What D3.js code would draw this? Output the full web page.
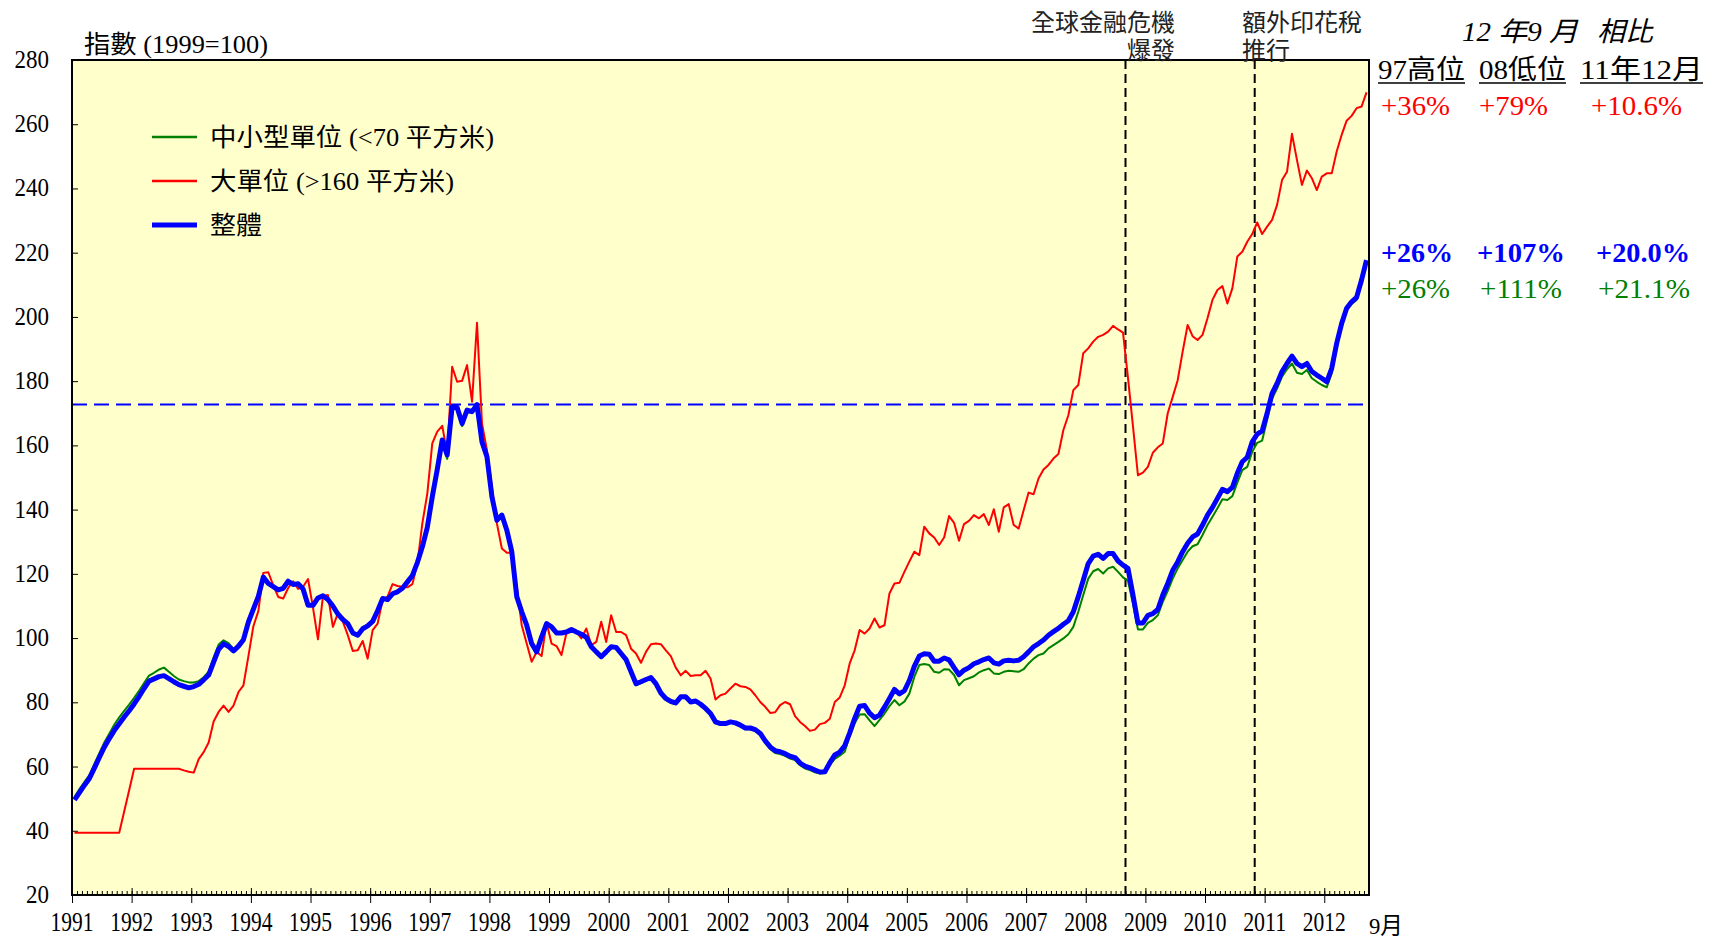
<!DOCTYPE html>
<html>
<head>
<meta charset="utf-8">
<script src="https://cdnjs.cloudflare.com/ajax/libs/d3/7.8.5/d3.min.js"></script>
<style>
body { margin: 0; background: #fff; }
svg text { font-family: "Liberation Serif", "Noto Sans CJK TC", serif; }
</style>
</head>
<body>
<main></main>
<script>
// monthly index, Jan 1991 .. Sep 2012 (1999 = 100)
var years = ['1991','1992','1993','1994','1995','1996','1997','1998','1999','2000','2001',
             '2002','2003','2004','2005','2006','2007','2008','2009','2010','2011','2012'];
var yTicks = [20, 40, 60, 80, 100, 120, 140, 160, 180, 200, 220, 240, 260, 280];

var overall = [
  49.6, 51.9, 54.2, 56.3, 59.5, 62.8, 66.0, 68.7, 71.2, 73.3, 75.4, 77.4,
  79.5, 81.8, 84.3, 86.6, 87.3, 88.0, 88.3, 87.4, 86.4, 85.5, 85.0, 84.5,
  84.9, 85.6, 87.0, 88.5, 92.5, 96.5, 98.2, 97.4, 96.0, 97.5, 99.5, 105.0,
  109.0, 113.0, 119.0, 117.0, 116.0, 115.0, 115.5, 117.7, 116.7, 116.9, 115.3, 110.2,
  110.2, 112.5, 113.2, 112.0, 110.0, 107.5, 105.8, 104.5, 101.6, 100.9, 102.9, 103.8,
  105.2, 108.5, 112.3, 112.0, 113.8, 114.4, 115.5, 117.5, 119.5, 123.5, 128.4, 134.5,
  144.0, 152.5, 161.7, 157.0, 172.0, 171.8, 166.8, 171.0, 170.5, 172.7, 161.1, 156.5,
  144.0, 136.7, 138.3, 133.6, 126.9, 112.9, 108.2, 104.0, 98.3, 95.7, 100.4, 104.5,
  103.5, 101.6, 101.6, 101.9, 102.7, 101.9, 101.2, 100.2, 97.3, 95.7, 94.2, 95.7,
  97.3, 97.1, 95.2, 93.3, 89.5, 85.8, 86.4, 87.1, 87.7, 85.8, 82.9, 81.2,
  80.3, 79.8, 81.7, 81.7, 80.1, 80.4, 79.4, 78.1, 76.5, 73.9, 73.4, 73.4,
  73.9, 73.6, 72.9, 72.0, 72.0, 71.5, 70.3, 68.0, 66.1, 64.9, 64.6, 64.0,
  63.2, 62.8, 61.1, 60.1, 59.6, 58.9, 58.3, 58.4, 61.2, 63.6, 64.5, 66.5,
  70.5, 75.0, 78.8, 79.0, 76.6, 75.2, 76.0, 78.5, 81.2, 84.0, 82.6, 83.6,
  86.8, 91.2, 94.4, 95.1, 95.0, 92.8, 92.8, 93.8, 93.2, 90.8, 88.6, 90.0,
  90.8, 92.0, 92.6, 93.3, 93.8, 92.3, 91.9, 92.9, 93.1, 92.9, 93.1, 94.2,
  95.7, 97.3, 98.3, 99.4, 100.9, 102.0, 103.0, 104.3, 105.4, 108.2, 112.9, 118.0,
  123.2, 125.5, 126.1, 124.8, 126.3, 126.3, 124.0, 122.7, 121.7, 113.4, 104.7, 104.7,
  107.1, 107.6, 108.9, 113.4, 117.0, 121.1, 123.7, 126.9, 129.5, 131.5, 132.4, 135.2,
  138.3, 140.7, 143.5, 146.3, 145.6, 146.9, 151.3, 154.9, 156.3, 161.1, 163.5, 164.5,
  170.0, 176.2, 179.3, 183.0, 185.5, 187.8, 185.5, 184.5, 185.5, 183.0, 181.9, 180.9,
  179.8, 184.0, 191.8, 198.0, 202.7, 204.7, 206.1, 211.5, 217.7
];

var smallUnits = [
  50.5, 53.0, 55.2, 57.3, 60.8, 64.2, 67.5, 70.2, 73.0, 75.3, 77.3, 79.3,
  81.4, 83.6, 86.0, 88.3, 89.2, 90.2, 90.8, 89.5, 88.2, 87.1, 86.6, 86.2,
  86.2, 86.6, 87.8, 89.5, 94.0, 98.0, 99.3, 98.4, 96.6, 97.8, 99.8, 105.0,
  109.0, 113.0, 119.0, 117.2, 116.0, 114.8, 115.5, 117.5, 116.5, 116.7, 115.0, 110.0,
  110.0, 112.3, 113.0, 111.8, 109.8, 107.4, 105.6, 104.3, 101.5, 100.8, 102.8, 103.7,
  105.3, 108.8, 112.6, 112.0, 113.7, 114.3, 115.4, 117.4, 119.4, 123.2, 128.0, 134.0,
  143.5, 152.0, 161.0, 155.8, 171.5, 171.2, 166.0, 170.3, 170.2, 172.2, 160.8, 156.2,
  143.8, 136.5, 138.0, 133.4, 126.7, 112.7, 108.0, 103.8, 98.1, 95.5, 100.2, 104.2,
  103.2, 101.4, 101.4, 101.7, 102.5, 101.7, 101.0, 100.0, 97.0, 95.4, 93.9, 95.4,
  97.0, 96.8, 94.9, 93.0, 89.1, 85.3, 86.0, 86.8, 87.3, 85.4, 82.5, 80.7,
  79.8, 79.4, 81.4, 81.3, 79.8, 80.1, 79.1, 77.8, 76.1, 73.5, 73.0, 73.1,
  73.6, 73.3, 72.5, 71.6, 71.6, 71.1, 69.8, 67.4, 65.5, 64.2, 63.9, 63.3,
  62.5, 62.0, 60.4, 59.4, 58.9, 58.2, 57.8, 58.0, 60.5, 62.4, 63.4, 64.6,
  69.5, 73.5, 76.2, 76.3, 74.4, 72.6, 74.5, 76.5, 78.8, 80.7, 79.1, 80.2,
  82.7, 87.9, 91.6, 91.9, 91.6, 89.5, 89.2, 90.3, 90.2, 88.5, 85.3, 86.9,
  87.5, 88.1, 89.3, 90.0, 90.5, 89.0, 88.8, 89.5, 89.8, 89.7, 89.5, 90.3,
  92.1, 93.6, 94.7, 95.2, 96.8, 97.8, 98.8, 99.9, 101.2, 103.5, 108.2, 113.4,
  118.5, 120.8, 121.5, 120.1, 121.7, 122.2, 120.6, 118.9, 117.8, 110.8, 102.7, 102.7,
  104.7, 105.6, 107.1, 111.3, 114.7, 118.5, 121.7, 124.3, 126.9, 128.6, 129.2, 132.1,
  135.2, 137.8, 140.4, 143.2, 143.0, 144.2, 148.4, 152.3, 153.3, 158.0, 160.8, 161.5,
  168.0, 174.6, 177.7, 181.4, 183.7, 185.5, 182.6, 182.2, 183.5, 180.9, 179.8, 178.8,
  178.1, 182.4, 190.7, 197.0, 202.1, 204.0, 205.3, 210.5, 216.5
];

var largeUnits = [
  39.4, 39.4, 39.4, 39.4, 39.4, 39.4, 39.4, 39.4, 39.4, 39.4, 46.0, 52.6,
  59.3, 59.3, 59.3, 59.3, 59.3, 59.3, 59.3, 59.3, 59.3, 59.3, 58.8, 58.4,
  58.1, 62.3, 64.5, 67.5, 74.0, 77.0, 79.0, 77.0, 79.0, 83.2, 85.3, 94.4,
  103.7, 108.4, 120.3, 120.5, 116.4, 112.8, 112.3, 115.6, 117.7, 115.3, 116.0, 118.4,
  109.4, 99.6, 113.0, 113.4, 103.5, 107.7, 105.1, 100.9, 96.0, 96.2, 99.1, 93.6,
  102.5, 104.5, 111.8, 112.9, 116.8, 116.2, 116.0, 115.8, 116.8, 123.2, 135.7, 145.0,
  160.6, 164.3, 166.1, 157.5, 184.5, 179.8, 180.1, 185.0, 173.6, 198.2, 166.8, 158.5,
  147.1, 135.7, 127.9, 126.6, 126.6, 116.0, 104.0, 98.3, 92.6, 95.7, 94.4, 104.8,
  98.3, 97.5, 94.7, 101.6, 101.9, 101.9, 99.9, 103.0, 97.8, 98.8, 105.1, 98.8,
  107.1, 101.9, 101.9, 100.9, 96.7, 95.2, 92.3, 95.7, 98.1, 98.3, 98.1, 96.2,
  94.4, 90.8, 88.4, 89.8, 88.2, 88.4, 88.4, 89.8, 87.4, 80.9, 82.2, 82.7,
  84.3, 85.8, 85.0, 84.8, 84.0, 82.2, 80.1, 78.6, 76.7, 76.9, 79.1, 80.1,
  79.4, 75.7, 73.9, 72.6, 71.1, 71.5, 73.2, 73.6, 74.9, 80.1, 81.5, 85.3,
  92.1, 96.2, 102.5, 101.4, 103.0, 106.1, 103.3, 104.0, 113.9, 117.0, 117.2, 120.6,
  123.8, 126.9, 125.8, 134.7, 132.6, 131.3, 129.0, 131.3, 138.0, 135.9, 130.3, 135.5,
  136.5, 138.3, 137.3, 138.6, 135.2, 140.1, 133.1, 140.7, 141.7, 135.2, 134.1, 139.8,
  145.3, 144.8, 149.7, 152.5, 153.9, 155.9, 157.3, 164.8, 169.4, 177.2, 178.8, 188.7,
  190.2, 192.3, 193.8, 194.4, 195.4, 197.2, 196.1, 195.1, 181.0, 166.0, 150.7, 151.5,
  153.3, 157.7, 159.4, 160.6, 170.0, 175.1, 180.3, 189.2, 197.5, 194.0, 192.8, 194.4,
  199.6, 205.3, 208.4, 209.6, 204.2, 208.9, 218.8, 220.3, 223.4, 225.8, 229.4, 225.8,
  228.1, 230.2, 234.9, 242.6, 245.2, 257.0, 248.9, 241.1, 245.6, 243.2, 239.5, 243.7,
  244.7, 244.7, 251.5, 256.7, 261.1, 262.6, 265.0, 265.5, 269.9
];

var peak97 = 172.7;
// event markers, as month index (Sep 2008, Nov 2010)
var eventMonths = [212, 238];

// comparison table
var compareHeads = ['97高位', '08低位', '11年12月'];
var largePct = ['+36%', '+79%', '+10.6%'];
var overallPct = ['+26%', '+107%', '+20.0%'];
var smallPct = ['+26%', '+111%', '+21.1%'];

!function(){
    var W = 1713, H = 940;
    var left = 72, right = 1369, top = 60, bottom = 895;

    var svg = d3.select('main').append('svg')
        .attr('width', W)
        .attr('height', H);

    var x = d3.scaleLinear().domain([0, 261]).range([left, right]);
    var y = d3.scaleLinear().domain([20, 280]).range([bottom, top]);

    svg.append('rect')
        .attr('x', left).attr('y', top)
        .attr('width', right - left).attr('height', bottom - top)
        .attr('fill', '#ffffcc');

    // monthly minor ticks (inside) + yearly ticks
    svg.append('g')
        .attr('transform', 'translate(0,' + bottom + ')')
        .call(d3.axisBottom(x).tickValues(d3.range(0, 262)).tickSize(-4).tickFormat(''))
        .call(g => g.select('.domain').remove());
    svg.append('g')
        .attr('transform', 'translate(0,' + bottom + ')')
        .call(d3.axisBottom(x).tickValues(d3.range(0, 253, 12)).tickSizeInner(8).tickSizeOuter(0).tickFormat(''))
        .call(g => g.select('.domain').remove())
        .selectAll('line').attr('y1', -7);

    svg.append('g')
        .attr('transform', 'translate(' + left + ',0)')
        .call(d3.axisLeft(y).tickValues(yTicks).tickSize(-6).tickFormat(''))
        .call(g => g.select('.domain').remove());

    // year labels
    svg.append('g').selectAll('text')
        .data(years)
        .join('text')
        .attr('x', (d, i) => x(i * 12))
        .attr('y', 931)
        .attr('text-anchor', 'middle')
        .attr('font-size', 27)
        .attr('textLength', 43)
        .attr('lengthAdjust', 'spacingAndGlyphs')
        .text(d => d);

    svg.append('text')
        .attr('x', 1369).attr('y', 934)
        .attr('font-size', 24)
        .attr('textLength', 34)
        .attr('lengthAdjust', 'spacingAndGlyphs')
        .text('9月');

    svg.append('g').selectAll('text')
        .data(yTicks)
        .join('text')
        .attr('x', 49)
        .attr('y', d => y(d) + 8)
        .attr('text-anchor', 'end')
        .attr('font-size', 25)
        .attr('textLength', d => String(d).length * 11.5)
        .attr('lengthAdjust', 'spacingAndGlyphs')
        .text(d => d);

    svg.append('text')
        .attr('x', 84).attr('y', 53)
        .attr('font-size', 25)
        .attr('textLength', 184)
        .attr('lengthAdjust', 'spacingAndGlyphs')
        .text('指數 (1999=100)');

    // reference lines
    svg.append('line')
        .attr('x1', left).attr('x2', 1366)
        .attr('y1', y(peak97)).attr('y2', y(peak97))
        .attr('stroke', '#0000ff').attr('stroke-width', 2)
        .attr('stroke-dasharray', '15,7');

    svg.append('g').selectAll('line')
        .data(eventMonths)
        .join('line')
        .attr('x1', d => x(d)).attr('x2', d => x(d))
        .attr('y1', bottom).attr('y2', top)
        .attr('stroke', '#000').attr('stroke-width', 2)
        .attr('stroke-dasharray', '9,5');

    var line = d3.line()
        .x((d, i) => x(i + 0.5))
        .y(d => y(d));

    var series = [
        {data: largeUnits, color: '#ff0000', width: 2},
        {data: smallUnits, color: '#008000', width: 2},
        {data: overall, color: '#0000ff', width: 5}
    ];
    svg.append('g').selectAll('path')
        .data(series)
        .join('path')
        .attr('d', d => line(d.data))
        .attr('fill', 'none')
        .attr('stroke', d => d.color)
        .attr('stroke-width', d => d.width)
        .attr('stroke-linejoin', 'round');

    svg.append('rect')
        .attr('x', left).attr('y', top)
        .attr('width', right - left).attr('height', bottom - top)
        .attr('fill', 'none')
        .attr('stroke', '#000').attr('stroke-width', 2);

    // legend
    var legend = [
        {name: '中小型單位 (<70 平方米)', color: '#008000', width: 2.5, len: 284},
        {name: '大單位 (>160 平方米)', color: '#ff0000', width: 2.5, len: 244},
        {name: '整體', color: '#0000ff', width: 5, len: 52}
    ];
    var lg = svg.append('g').selectAll('g')
        .data(legend)
        .join('g')
        .attr('transform', (d, i) => 'translate(152,' + (137 + i * 44) + ')');
    lg.append('line')
        .attr('x1', 0).attr('x2', 45)
        .attr('stroke', d => d.color)
        .attr('stroke-width', d => d.width);
    lg.append('text')
        .attr('x', 58).attr('y', 9)
        .attr('font-size', 25)
        .attr('textLength', d => d.len)
        .attr('lengthAdjust', 'spacingAndGlyphs')
        .text(d => d.name);

    // event labels
    var notes = [
        {t: '全球金融危機', x: 1175, y: 31, a: 'end'},
        {t: '爆發', x: 1175, y: 59, a: 'end'},
        {t: '額外印花稅', x: 1242, y: 31, a: 'start'},
        {t: '推行', x: 1242, y: 59, a: 'start'}
    ];
    svg.append('g').selectAll('text')
        .data(notes)
        .join('text')
        .attr('x', d => d.x).attr('y', d => d.y)
        .attr('text-anchor', d => d.a)
        .attr('font-size', 24)
        .style('fill', '#222')
        .text(d => d.t);

    // comparison table
    svg.append('text')
        .attr('x', 1462).attr('y', 41)
        .attr('font-size', 27).attr('font-style', 'italic')
        .attr('textLength', 116)
        .attr('lengthAdjust', 'spacingAndGlyphs')
        .text('12 年9 月');
    svg.append('text')
        .attr('x', 1597).attr('y', 41)
        .attr('font-size', 27).attr('font-style', 'italic')
        .attr('textLength', 56)
        .attr('lengthAdjust', 'spacingAndGlyphs')
        .text('相比');

    var colX = [1378, 1479, 1580];
    var headW = [87, 87, 123];
    var tbl = svg.append('g');
    tbl.selectAll('text.head')
        .data(compareHeads)
        .join('text')
        .attr('class', 'head')
        .attr('x', (d, i) => colX[i]).attr('y', 79)
        .attr('font-size', 27)
        .attr('textLength', (d, i) => headW[i])
        .attr('lengthAdjust', 'spacingAndGlyphs')
        .text(d => d);
    tbl.selectAll('line')
        .data(compareHeads)
        .join('line')
        .attr('x1', (d, i) => colX[i]).attr('x2', (d, i) => colX[i] + headW[i])
        .attr('y1', 83).attr('y2', 83)
        .attr('stroke', '#000').attr('stroke-width', 1.5);

    var rows = [
        {vals: largePct, y: 115, color: '#ff0000', bold: false, xs: [1381, 1479, 1591], ws: [69, 69, 91]},
        {vals: overallPct, y: 262, color: '#0000ff', bold: true, xs: [1381, 1477, 1596], ws: [72, 88, 94]},
        {vals: smallPct, y: 298, color: '#008000', bold: false, xs: [1381, 1480, 1598], ws: [69, 82, 92]}
    ];
    rows.forEach(r => {
        tbl.append('g').selectAll('text')
            .data(r.vals)
            .join('text')
            .attr('x', (d, i) => r.xs[i]).attr('y', r.y)
            .attr('font-size', 27)
            .attr('font-weight', r.bold ? 'bold' : 'normal')
            .style('fill', r.color)
            .attr('textLength', (d, i) => r.ws[i])
            .attr('lengthAdjust', 'spacingAndGlyphs')
            .text(d => d);
    });
}();
</script>
</body>
</html>
